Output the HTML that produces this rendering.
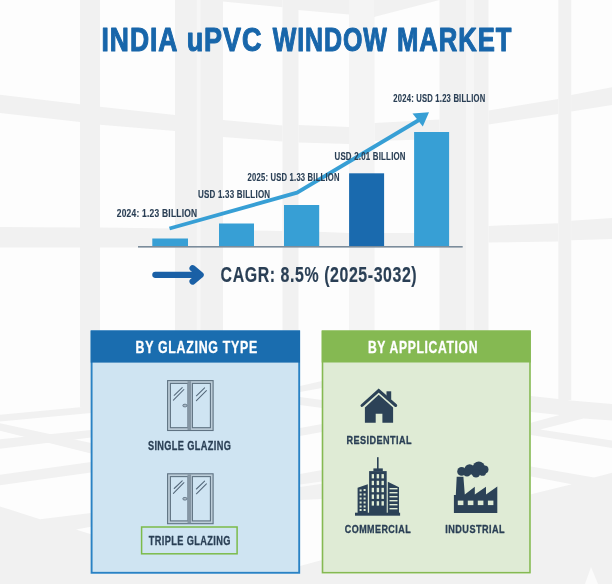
<!DOCTYPE html>
<html>
<head>
<meta charset="utf-8">
<title>India uPVC Window Market</title>
<style>
html,body{margin:0;padding:0;background:#fdfdfd;}
body{width:612px;height:584px;overflow:hidden;}
svg{display:block;will-change:transform;}
text{font-family:"Liberation Sans",Arial,sans-serif;font-weight:bold;}
</style>
</head>
<body>
<svg width="612" height="584" viewBox="0 0 612 584">
<!-- background -->
<rect x="0" y="0" width="612" height="584" fill="#fdfdfd"/>
<g id="bg" fill="#f1f1f1">
  <!-- vertical mullions -->
  <rect x="80" y="0" width="20" height="407.5"/>
  <rect x="175" y="0" width="48" height="331"/>
  <rect x="282.5" y="0" width="16" height="331"/>
  <rect x="349" y="0" width="25.5" height="331" fill="#f4f4f4"/>
  <rect x="439.5" y="0" width="49" height="331"/>
  <rect x="558.3" y="0" width="12.9" height="400"/>
  <!-- top row -->
  <polygon points="223,0 282.5,0 282.5,7.3 223,1.6"/>
  <polygon points="298,0 349,0 349,14.5 298,10"/>
  <polygon points="374,0 439.5,0 374,17"/>
  <!-- row 1 -->
  <polygon points="0,94.8 80,104.2 80,122.1 0,112.9"/>
  <polygon points="100,106.8 175,115 175,130.9 100,124.7"/>
  <polygon points="223,120 282.5,125.5 282.5,141.5 223,137"/>
  <polygon points="298.5,125 349,127 349,144 298.5,142.5"/>
  <polygon points="374.5,123 439.5,119.6 439.5,139 374.5,141"/>
  <polygon points="488.5,110.5 558.3,98.9 558.3,114 488.5,124.4"/>
  <polygon points="571.2,95 612,87.3 612,105 571.2,111.6"/>
  <!-- row 2 -->
  <polygon points="0,227 80,227.5 80,247.5 0,247.5"/>
  <polygon points="100,227.5 175,228.5 175,247.5 100,247.5"/>
  <polygon points="223,230 282.5,231 282.5,247 223,247"/>
  <polygon points="298.5,231 349,233 349,247 298.5,247"/>
  <polygon points="374.5,233 439.5,233 439.5,247 374.5,247"/>
  <polygon points="488.5,225.9 558.3,223.3 558.3,241.6 488.5,242.6"/>
  <polygon points="571.2,220.7 612,218 612,239 571.2,240.3"/>
  <!-- left floor -->
  <polygon points="0,414.8 80,407.3 91,406 91,412.9 0,421.4"/>
  <polygon points="0,423.3 91,443 91,453.4 0,430.8"/>
  <polygon points="0,439.3 91,429.9 91,437.4 0,448.7"/>
  <polygon points="0,474.8 91,462 91,472.5 0,485.3"/>
  <polygon points="0,506.4 40,519.2 91,513.1 91,526.8 76,529.6 91,534.3 91,584 0,584"/>
  <!-- bottom strip -->
  <rect x="0" y="574" width="612" height="10"/>
  <!-- right floor -->
  <polygon points="531,396 558.3,399 571.2,400.6 612,403.9 612,420.4 583.4,418.6 540.2,429.6 612,440.4 612,448.1 531,435 531,422.7 559.5,415 531,411.9"/>
  <polygon points="531,466.6 594.1,477.4 612,472.8 612,584 531,584 531,494.3 571.8,484.3 531,476.6"/>
  <!-- between boxes -->
  <polygon points="300,386 322,381 322,388 300,392"/>
  <polygon points="300,397 322,400 322,408 300,405"/>
  <polygon points="300,428 322,424 322,432 300,436"/>
  <polygon points="300,474 322,470 322,499 300,500"/>
  <polygon points="300,566 322,560 322,574 300,574"/>
</g>
<g fill="#fbfbfb">
  <polygon points="300,484.5 322,481.5 322,483.8 300,487"/>
  <polygon points="585,584 591,567 598,584"/>
</g>
<g fill="#f6f6f6">
  <rect x="196.7" y="0" width="4" height="331"/>
  <rect x="466" y="0" width="8" height="331"/>
</g>

<!-- title -->
<text x="101.56" y="50.65" font-size="33.00" fill="#1866aa" stroke="#1866aa" letter-spacing="1.2" stroke-width="1.1" stroke-linejoin="round" textLength="76.86" lengthAdjust="spacingAndGlyphs">INDIA</text>
<text x="186.64" y="50.65" font-size="33.00" fill="#1866aa" stroke="#1866aa" letter-spacing="1.2" stroke-width="1.1" stroke-linejoin="round" textLength="75.97" lengthAdjust="spacingAndGlyphs">uPVC</text>
<text x="272.84" y="50.65" font-size="33.00" fill="#1866aa" stroke="#1866aa" letter-spacing="1.2" stroke-width="1.1" stroke-linejoin="round" textLength="114.89" lengthAdjust="spacingAndGlyphs">WINDOW</text>
<text x="397.09" y="50.65" font-size="33.00" fill="#1866aa" stroke="#1866aa" letter-spacing="1.2" stroke-width="1.1" stroke-linejoin="round" textLength="115.15" lengthAdjust="spacingAndGlyphs">MARKET</text>

<!-- chart -->
<g fill="#379fd5">
  <rect x="152.3" y="238.5" width="35.7" height="7.8"/>
  <rect x="219" y="223.5" width="35" height="22.8"/>
  <rect x="284" y="205" width="35.2" height="41.3"/>
  <rect x="349.1" y="173.3" width="35" height="73" fill="#1a6aae"/>
  <rect x="414.1" y="132" width="35" height="114.3"/>
</g>
<rect x="138" y="246" width="324.7" height="1.6" fill="#7b8c9b"/>
<polyline points="169.5,228.5 297,192.7 419,120" fill="none" stroke="#379fd5" stroke-width="3.8"/>
<polygon points="412.5,113.5 429,112.2 422.8,126.5" fill="#379fd5"/>

<g fill="#2a3f55" font-size="10.5">
  <text x="393.36" y="101.87" font-size="10.80" fill="#2a3f55" stroke="#2a3f55" letter-spacing="0.3" stroke-width="0.15" stroke-linejoin="round" textLength="92.03" lengthAdjust="spacingAndGlyphs">2024: USD 1.23 BILLION</text>
  <text x="334.50" y="159.87" font-size="10.80" fill="#2a3f55" stroke="#2a3f55" letter-spacing="0.3" stroke-width="0.15" stroke-linejoin="round" textLength="71.28" lengthAdjust="spacingAndGlyphs">USD 2.01 BILLION</text>
  <text x="247.62" y="181.21" font-size="10.80" fill="#2a3f55" stroke="#2a3f55" letter-spacing="0.3" stroke-width="0.15" stroke-linejoin="round" textLength="92.02" lengthAdjust="spacingAndGlyphs">2025: USD 1.33 BILLION</text>
  <text x="197.94" y="198.29" font-size="10.80" fill="#2a3f55" stroke="#2a3f55" letter-spacing="0.3" stroke-width="0.15" stroke-linejoin="round" textLength="72.40" lengthAdjust="spacingAndGlyphs">USD 1.33 BILLION</text>
  <text x="116.74" y="216.90" font-size="10.80" fill="#2a3f55" stroke="#2a3f55" letter-spacing="0.3" stroke-width="0.15" stroke-linejoin="round" textLength="80.61" lengthAdjust="spacingAndGlyphs">2024: 1.23 BILLION</text>
</g>

<!-- CAGR -->
<g stroke="#1a60a6" stroke-width="6.3" stroke-linecap="round" stroke-linejoin="round" fill="none">
  <line x1="155.4" y1="274.8" x2="199" y2="274.8"/>
  <polyline points="192.6,268.3 200.6,274.9 192.6,281.5"/>
</g>
<text x="220.60" y="282.40" font-size="21.94" fill="#2a3f55" stroke="#2a3f55" letter-spacing="0.8" stroke-width="0.2" stroke-linejoin="round" textLength="196.62" lengthAdjust="spacingAndGlyphs">CAGR: 8.5% (2025-3032)</text>

<!-- left box -->
<rect x="91.6" y="331.4" width="207.6" height="241.4" fill="#cfe4f2" stroke="#2a82c4" stroke-width="1.9"/>
<rect x="90.7" y="330.5" width="209.3" height="32.1" fill="#1a6daf"/>
<text x="135.55" y="352.85" font-size="15.90" fill="#ffffff" stroke="#ffffff" letter-spacing="0.9" stroke-width="0.3" stroke-linejoin="round" textLength="122.29" lengthAdjust="spacingAndGlyphs">BY GLAZING TYPE</text>

<!-- right box -->
<rect x="322.5" y="331.3" width="207.5" height="241.4" fill="#dfebd5" stroke="#85b952" stroke-width="1.6"/>
<rect x="321.7" y="330.5" width="209.1" height="32" fill="#85b952"/>
<text x="367.95" y="352.85" font-size="15.90" fill="#ffffff" stroke="#ffffff" letter-spacing="0.9" stroke-width="0.3" stroke-linejoin="round" textLength="110.21" lengthAdjust="spacingAndGlyphs">BY APPLICATION</text>

<!-- window icons -->
<defs>
<g id="win">
  <rect x="0.6" y="0.6" width="45.5" height="49.9" fill="#bccdd9" stroke="#5f7282" stroke-width="1.1"/>
  <rect x="3.4" y="3.4" width="17.6" height="44.3" fill="#cfe4f2" stroke="#5f7282" stroke-width="1.1"/>
  <rect x="25.4" y="3.4" width="18" height="44.3" fill="#cfe4f2" stroke="#5f7282" stroke-width="1.1"/>
  <rect x="20.5" y="1.1" width="3.6" height="48.9" fill="#8596a4"/>
  <g stroke="#55687a" stroke-width="1.05" stroke-linecap="round">
    <line x1="7.2" y1="15.3" x2="15.2" y2="7.6"/>
    <line x1="6.4" y1="20.2" x2="16.9" y2="9.5"/>
    <line x1="29.4" y1="15.8" x2="37.6" y2="7.9"/>
    <line x1="29.4" y1="20.6" x2="39.4" y2="10.6"/>
  </g>
  <rect x="15.9" y="24.3" width="4" height="2.5" rx="1.2" fill="#a8b8c5" stroke="#5f7282" stroke-width="0.9"/>
</g>
</defs>
<use href="#win" x="167" y="380"/>
<use href="#win" x="167" y="473.2"/>

<g fill="#2a3f55" font-size="12.4">
  <text x="147.93" y="449.88" font-size="12.40" fill="#2a3f55" stroke="#2a3f55" letter-spacing="0.5" stroke-width="0.3" stroke-linejoin="round" textLength="83.26" lengthAdjust="spacingAndGlyphs">SINGLE GLAZING</text>
  <text x="148.84" y="544.86" font-size="12.40" fill="#2a3f55" stroke="#2a3f55" letter-spacing="0.5" stroke-width="0.3" stroke-linejoin="round" textLength="81.93" lengthAdjust="spacingAndGlyphs">TRIPLE GLAZING</text>
</g>
<rect x="141.6" y="527" width="95.5" height="26.8" fill="none" stroke="#7cbb4a" stroke-width="1.5"/>

<!-- house icon -->
<g fill="#2c4257">
  <polyline points="362,405.5 378.7,390.6 395.7,405.5" fill="none" stroke="#2c4257" stroke-width="3" stroke-linecap="round" stroke-linejoin="miter"/>
  <rect x="386.5" y="391.3" width="4.7" height="8"/>
  <polygon points="378.7,394.8 393.1,407.4 393.1,422.8 382.4,422.8 382.4,413.8 375.7,413.8 375.7,422.8 364.9,422.8 364.9,407.4"/>
</g>

<!-- commercial icon -->
<g fill="#2c4257">
  <rect x="377" y="457.2" width="1.6" height="12"/>
  <rect x="373.4" y="468.4" width="9.4" height="3"/>
  <rect x="369.1" y="471.1" width="17.6" height="42"/>
  <polygon points="357.6,487.8 367.8,484.2 367.8,513 357.6,513"/>
  <polygon points="387.8,481.7 399,487.3 399,513 387.8,513"/>
  <rect x="355" y="512.7" width="45.1" height="3"/>
</g>
<g fill="#dfebd5">
  <rect x="371.7" y="474.1" width="2.3" height="4.3"/><rect x="376.7" y="474.1" width="2.4" height="4.3"/><rect x="381.5" y="474.1" width="2.4" height="4.3"/>
  <rect x="371.7" y="480.8" width="2.3" height="4.3"/><rect x="376.7" y="480.8" width="2.4" height="4.3"/><rect x="381.5" y="480.8" width="2.4" height="4.3"/>
  <rect x="371.7" y="487.8" width="2.3" height="4.4"/><rect x="376.7" y="487.8" width="2.4" height="4.4"/><rect x="381.5" y="487.8" width="2.4" height="4.4"/>
  <rect x="371.7" y="494.5" width="2.3" height="4.4"/><rect x="376.7" y="494.5" width="2.4" height="4.4"/><rect x="381.5" y="494.5" width="2.4" height="4.4"/>
  <rect x="371.7" y="501.2" width="2.3" height="4.4"/><rect x="376.7" y="501.2" width="2.4" height="4.4"/><rect x="381.5" y="501.2" width="2.4" height="4.4"/>
  <rect x="359.6" y="489.5" width="2" height="2"/><rect x="363.6" y="489" width="2" height="2"/>
  <rect x="359.6" y="493.5" width="2" height="2"/><rect x="363.6" y="493.5" width="2" height="2"/>
  <rect x="359.6" y="497.5" width="2" height="2"/><rect x="363.6" y="497.5" width="2" height="2"/>
  <rect x="359.6" y="501.5" width="2" height="2"/><rect x="363.6" y="501.5" width="2" height="2"/>
  <rect x="359.6" y="505.5" width="2" height="2"/><rect x="363.6" y="505.5" width="2" height="2"/>
  <rect x="359.6" y="509" width="2" height="2"/><rect x="363.6" y="509" width="2" height="2"/>
  <rect x="389.5" y="488" width="8" height="1.4"/>
  <rect x="389.5" y="492" width="8" height="1.4"/>
  <rect x="389.5" y="496" width="8" height="1.4"/>
  <rect x="389.5" y="500" width="8" height="1.4"/>
  <rect x="389.5" y="504" width="8" height="1.4"/>
  <rect x="389.5" y="508" width="8" height="1.4"/>
</g>

<!-- factory icon -->
<g fill="#2c4257">
  <polygon points="456.7,476.7 463.4,476.7 464.8,494.5 474.8,486.7 474.8,494.5 486,486.7 486,494.5 497.3,486.5 497.3,513.1 453.9,513.1 453.9,495.1 455.8,495.1"/>
  <circle cx="461.6" cy="471.4" r="4.4"/><circle cx="469.6" cy="469.5" r="5.2"/><circle cx="478.8" cy="467.6" r="6.1"/><circle cx="484.4" cy="469.6" r="4.1"/><circle cx="467" cy="472.8" r="3.6"/><circle cx="476" cy="473.4" r="4.2"/><circle cx="482.6" cy="472.4" r="3.4"/>
</g>
<g fill="#dfebd5">
  <rect x="457.8" y="500.6" width="5.6" height="4.5"/>
  <rect x="467.8" y="500.6" width="5.6" height="4.5"/>
  <rect x="477.8" y="500.6" width="5.6" height="4.5"/>
  <rect x="487.9" y="500.6" width="5.5" height="4.5"/>
</g>

<g fill="#2a3f55" font-size="11.9">
  <text x="346.54" y="444.18" font-size="10.23" fill="#2a3f55" stroke="#2a3f55" letter-spacing="0.5" stroke-width="0.3" stroke-linejoin="round" textLength="65.49" lengthAdjust="spacingAndGlyphs">RESIDENTIAL</text>
  <text x="344.80" y="532.68" font-size="10.23" fill="#2a3f55" stroke="#2a3f55" letter-spacing="0.5" stroke-width="0.3" stroke-linejoin="round" textLength="66.27" lengthAdjust="spacingAndGlyphs">COMMERCIAL</text>
  <text x="445.35" y="532.68" font-size="10.23" fill="#2a3f55" stroke="#2a3f55" letter-spacing="0.5" stroke-width="0.3" stroke-linejoin="round" textLength="59.60" lengthAdjust="spacingAndGlyphs">INDUSTRIAL</text>
</g>
</svg>
</body>
</html>
